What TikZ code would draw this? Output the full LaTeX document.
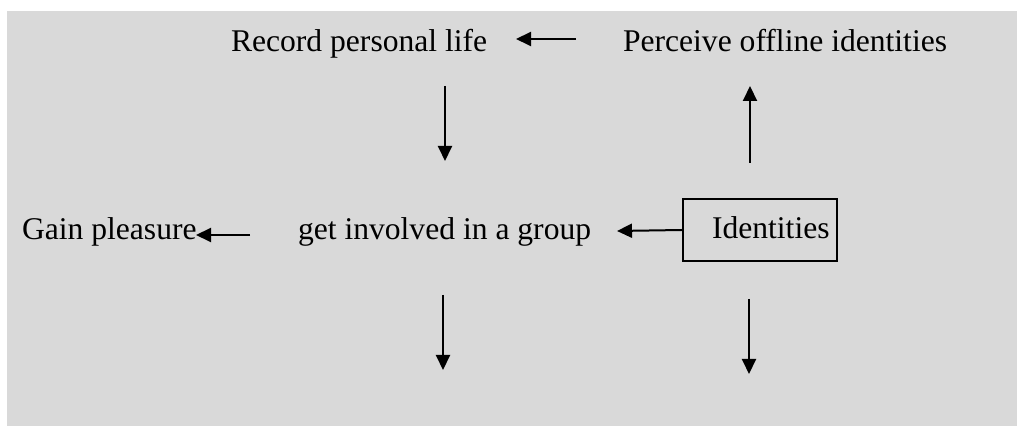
\documentclass[tikz,border=0pt]{standalone}
\usepackage{fontspec}
\setmainfont{Liberation Serif}
\usetikzlibrary{arrows.meta}
\definecolor{bggray}{HTML}{D9D9D9}
\begin{document}
\begin{tikzpicture}[x=0.5pt,y=-0.5pt,
  lbl/.style={anchor=base west,inner sep=0pt,outer sep=0pt,font=\fontsize{15.8}{19}\selectfont},
  arr/.style={line width=1pt,-{Triangle[length=7.5pt,width=7pt]}},
  boxed/.style={draw,line width=1pt,minimum width=77pt,minimum height=31pt,inner sep=0pt,font=\fontsize{15.8}{19}\selectfont}]
\useasboundingbox (0,0) rectangle (1017,426);
\fill[bggray] (7,11) rectangle (1017,426);
% texts
\node[lbl] (rec) at (231,52) {Record personal life};
\node[lbl] (per) at (623,52) {Perceive offline identities};
\node[lbl] (gain) at (22,240) {Gain pleasure};
\node[lbl] (grp) at (298,240) {get involved in a group};
\node[boxed] (id) at (760,230) {};
\node[lbl] (idt) at (712,239) {Identities};
% arrow end points
\coordinate (a1s) at (576,39);  \coordinate (a1e) at (516,39);
\coordinate (a2s) at (445,86);  \coordinate (a2e) at (445,161);
\coordinate (a3s) at (750,163); \coordinate (a3e) at (750,86);
\coordinate (a4s) at (250,235); \coordinate (a4e) at (196,235);
\coordinate (a5e) at (617,231);
\coordinate (a6s) at (443,295); \coordinate (a6e) at (443,370);
\coordinate (a7s) at (749,299); \coordinate (a7e) at (749,374);
\draw[arr] (a1s) -- (a1e);
\draw[arr] (a2s) -- (a2e);
\draw[arr] (a3s) -- (a3e);
\draw[arr] (a4s) -- (a4e);
\draw[arr] (id.west) -- (a5e);
\draw[arr] (a6s) -- (a6e);
\draw[arr] (a7s) -- (a7e);
\end{tikzpicture}
\end{document}
